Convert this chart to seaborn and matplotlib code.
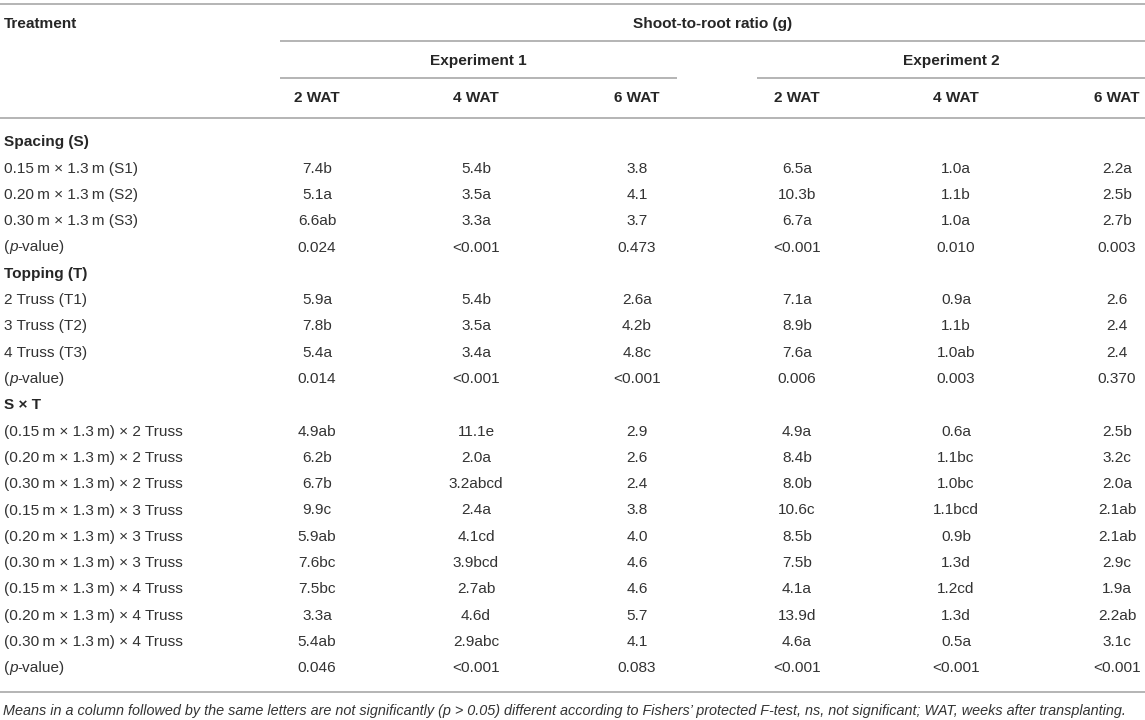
import matplotlib
matplotlib.use("Agg")
import matplotlib.pyplot as plt
import seaborn as sns
import pandas as pd

# ---------------- data ----------------
title_main = "Shoot-to-root ratio (g)"
stub_title = "Treatment"
experiments = ["Experiment 1", "Experiment 2"]
weeks = ["2 WAT", "4 WAT", "6 WAT"]
section_titles = ["Spacing (S)", "Topping (T)", "S \u00d7 T"]

T = "\u2009"
spacing_labels = [f"0.15{T}m \u00d7 1.3{T}m (S1)", f"0.20{T}m \u00d7 1.3{T}m (S2)",
                  f"0.30{T}m \u00d7 1.3{T}m (S3)", "PVAL"]
topping_labels = ["2 Truss (T1)", "3 Truss (T2)", "4 Truss (T3)", "PVAL"]
sxt_labels = [f"(0.15{T}m \u00d7 1.3{T}m) \u00d7 2 Truss", f"(0.20{T}m \u00d7 1.3{T}m) \u00d7 2 Truss",
              f"(0.30{T}m \u00d7 1.3{T}m) \u00d7 2 Truss", f"(0.15{T}m \u00d7 1.3{T}m) \u00d7 3 Truss",
              f"(0.20{T}m \u00d7 1.3{T}m) \u00d7 3 Truss", f"(0.30{T}m \u00d7 1.3{T}m) \u00d7 3 Truss",
              f"(0.15{T}m \u00d7 1.3{T}m) \u00d7 4 Truss", f"(0.20{T}m \u00d7 1.3{T}m) \u00d7 4 Truss",
              f"(0.30{T}m \u00d7 1.3{T}m) \u00d7 4 Truss", "PVAL"]

exp1_2wat = ["7.4b", "5.1a", "6.6ab", "0.024",
             "5.9a", "7.8b", "5.4a", "0.014",
             "4.9ab", "6.2b", "6.7b", "9.9c", "5.9ab", "7.6bc", "7.5bc", "3.3a", "5.4ab", "0.046"]
exp1_4wat = ["5.4b", "3.5a", "3.3a", "<0.001",
             "5.4b", "3.5a", "3.4a", "<0.001",
             "11.1e", "2.0a", "3.2abcd", "2.4a", "4.1cd", "3.9bcd", "2.7ab", "4.6d", "2.9abc", "<0.001"]
exp1_6wat = ["3.8", "4.1", "3.7", "0.473",
             "2.6a", "4.2b", "4.8c", "<0.001",
             "2.9", "2.6", "2.4", "3.8", "4.0", "4.6", "4.6", "5.7", "4.1", "0.083"]
exp2_2wat = ["6.5a", "10.3b", "6.7a", "<0.001",
             "7.1a", "8.9b", "7.6a", "0.006",
             "4.9a", "8.4b", "8.0b", "10.6c", "8.5b", "7.5b", "4.1a", "13.9d", "4.6a", "<0.001"]
exp2_4wat = ["1.0a", "1.1b", "1.0a", "0.010",
             "0.9a", "1.1b", "1.0ab", "0.003",
             "0.6a", "1.1bc", "1.0bc", "1.1bcd", "0.9b", "1.3d", "1.2cd", "1.3d", "0.5a", "<0.001"]
exp2_6wat = ["2.2a", "2.5b", "2.7b", "0.003",
             "2.6", "2.4", "2.4", "0.370",
             "2.5b", "3.2c", "2.0a", "2.1ab", "2.1ab", "2.9c", "1.9a", "2.2ab", "3.1c", "<0.001"]

footnote = ("Means in a column followed by the same letters are not significantly (p > 0.05) "
            "different according to Fishers\u2019 protected F-test, ns, not significant; "
            "WAT, weeks after transplanting.")

# ---------------- build table ----------------
columns = [exp1_2wat, exp1_4wat, exp1_6wat, exp2_2wat, exp2_4wat, exp2_6wat]
sections = [spacing_labels, topping_labels, sxt_labels]
rows = []
k = 0
for title, labels in zip(section_titles, sections):
    rows.append({"label": title, "kind": "section", "vals": [""] * 6})
    for lab in labels:
        rows.append({"label": lab, "kind": "row", "vals": [c[k] for c in columns]})
        k += 1
table = pd.DataFrame(rows)

# ---------------- style ----------------
sns.set_theme(style="white")
plt.rcParams["font.family"] = ["Liberation Sans", "DejaVu Sans"]

W, H = 1145, 720
fig = plt.figure(figsize=(W / 100, H / 100), dpi=100)
ax = fig.add_axes([0, 0, 1, 1])
ax.set_xlim(0, W)
ax.set_ylim(H, 0)
ax.axis("off")
renderer = fig.canvas.get_renderer()

FS = 11.1
TXT = "#262626"
REG = "#333333"
LINE = "#b4b4b4"
LW = 1.4

col_x = [317, 476, 637, 797, 956, 1117]
x_left = 4

def hline(y, x0, x1):
    ax.plot([x0, x1], [y, y], color=LINE, lw=LW, solid_capstyle="butt")

def px_width(t):
    bb = t.get_window_extent(renderer=renderer)
    return bb.width

def pvalue_label(x, y):
    # "(" regular, "p" italic, "-value)" regular, laid out side by side
    parts = [("(", "normal"), ("p", "italic"), ("-value)", "normal")]
    cx = x
    for s, st in parts:
        t = ax.text(cx, y, s, fontsize=FS, style=st, color=REG, va="center", ha="left")
        cx += px_width(t)

hline(4, 0, W)
hline(41, 280, W)
hline(78, 280, 677)
hline(78, 757, W)
hline(118, 0, W)
hline(692, 0, W)

ax.text(x_left, 24, stub_title, fontsize=FS, fontweight="bold", color=TXT, va="center", ha="left")
ax.text((280 + W) / 2, 24, title_main, fontsize=FS, fontweight="bold", color=TXT, va="center", ha="center")
ax.text((280 + 677) / 2, 61, experiments[0], fontsize=FS, fontweight="bold", color=TXT, va="center", ha="center")
ax.text((757 + W) / 2, 61, experiments[1], fontsize=FS, fontweight="bold", color=TXT, va="center", ha="center")
for i, x in enumerate(col_x):
    ax.text(x, 98, weeks[i % 3], fontsize=FS, fontweight="bold", color=TXT, va="center", ha="center")

y0, dy = 142.3, 26.3
for i, r in table.iterrows():
    y = y0 + i * dy
    if r["kind"] == "section":
        ax.text(x_left, y, r["label"], fontsize=FS, fontweight="bold", color=TXT, va="center", ha="left")
        continue
    lab = r["label"]
    if lab == "PVAL":
        pvalue_label(x_left, y)
    else:
        ax.text(x_left, y, lab, fontsize=FS, color=REG, va="center", ha="left")
    for x, v in zip(col_x, r["vals"]):
        ax.text(x, y, v, fontsize=FS, color=REG, va="center", ha="center")

fn = ax.text(x_left - 1, 711, footnote, fontsize=9.0, style="italic", color=REG, va="center", ha="left")
w = px_width(fn)
fn.set_fontsize(9.0 * 1128 / w)

fig.savefig("out.png", dpi=100)
